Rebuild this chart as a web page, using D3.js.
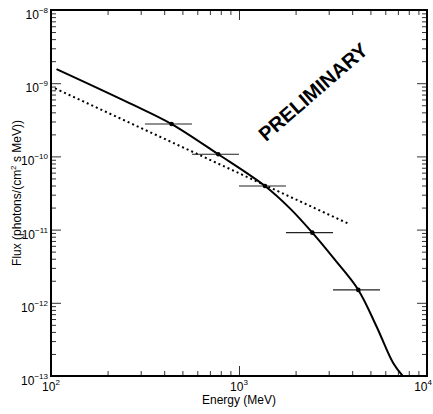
<html>
<head>
<script src="https://cdnjs.cloudflare.com/ajax/libs/d3/7.8.5/d3.min.js"></script>
<style>
  body { margin: 0; background: white; }
  text { font-family: "Liberation Sans", Arial, Helvetica, sans-serif; fill: black; }
  .frame { fill: none; stroke: black; stroke-width: 2px; }
  .tick line { stroke: #333; }
</style>
</head>
<body>
<svg id="chart" width="433" height="414"></svg>
<script>
// measured points (bin edges in MeV, flux in photons/(cm2 s MeV))
const binLow  = [316, 562, 1000, 1778, 3162];
const binHigh = [562, 1000, 1778, 3162, 5623];
const energy  = [438, 776, 1375, 2455, 4312];
const flux    = [2.77e-10, 1.07e-10, 3.94e-11, 9.08e-12, 1.50e-12];

// curved model (solid)
const modelE = [107, 263, 438, 776, 1375, 1866, 2455, 3241, 4312, 5397, 6620, 7430];
const modelF = [1.56e-9, 5.31e-10, 2.77e-10, 1.07e-10, 3.94e-11, 1.95e-11,
                9.08e-12, 3.85e-12, 1.50e-12, 4.71e-13, 1.49e-13, 1.0e-13];

// power law (dotted)
const plE = [105, 3860];
const plF = [8.5e-10, 1.19e-11];

const xMajor = [1e2, 1e3, 1e4];
const xMajorExp = ["2", "3", "4"];
const yMajor = [1e-13, 1e-12, 1e-11, 1e-10, 1e-9, 1e-8];
const yMajorExp = ["\u221213", "\u221212", "\u221211", "\u221210", "\u22129", "\u22128"];

const svg = d3.select("#chart");
const margin = {left: 51, right: 6, top: 10, bottom: 38};
const W = 433 - margin.left - margin.right;
const H = 414 - margin.top - margin.bottom;
const g = svg.append("g").attr("transform", "translate(" + margin.left + "," + margin.top + ")");

const x = d3.scaleLog().domain([1e2, 1e4]).range([0, W]);
const y = d3.scaleLog().domain([1e-13, 1e-8]).range([H, 0]);

// minor ticks 2..9 in each decade
const xMinor = [];
[1e2, 1e3].forEach(d => { for (let k = 2; k <= 9; k++) xMinor.push(d * k); });
const yMinor = [];
[1e-13, 1e-12, 1e-11, 1e-10, 1e-9].forEach(d => { for (let k = 2; k <= 9; k++) yMinor.push(d * k); });

function drawAxes(vals, size) {
  g.append("g").attr("transform", "translate(0," + H + ")")
    .call(d3.axisBottom(x).tickValues(vals).tickSize(-size).tickFormat(""));
  g.append("g")
    .call(d3.axisTop(x).tickValues(vals).tickSize(-size).tickFormat(""));
}
function drawYAxes(vals, size) {
  g.append("g")
    .call(d3.axisLeft(y).tickValues(vals).tickSize(-size).tickFormat(""));
  g.append("g").attr("transform", "translate(" + W + ",0)")
    .call(d3.axisRight(y).tickValues(vals).tickSize(-size).tickFormat(""));
}
drawAxes(xMinor, 5);
drawAxes(xMajor, 10);
drawYAxes(yMinor, 5);
drawYAxes(yMajor, 10);
g.selectAll(".domain").remove();

g.append("rect").attr("class", "frame").attr("width", W).attr("height", H);

// tick labels (last one pulled in so it stays on the page)
xMajor.forEach((v, i) => {
  const last = i === xMajor.length - 1;
  const t = g.append("text").attr("x", last ? W + 5 : x(v)).attr("y", H + 15)
    .attr("text-anchor", last ? "end" : "middle").style("font-size", "12px");
  t.append("tspan").text("10");
  t.append("tspan").attr("dy", -6).style("font-size", "8px").text(xMajorExp[i]);
});
yMajor.forEach((v, i) => {
  const t = g.append("text").attr("x", -3).attr("y", y(v) + 9)
    .attr("text-anchor", "end").style("font-size", "12px");
  t.append("tspan").text("10");
  t.append("tspan").attr("dy", -6).style("font-size", "8px").text(yMajorExp[i]);
});

// axis titles
g.append("text").attr("x", W / 2).attr("y", H + 28)
  .attr("text-anchor", "middle").style("font-size", "12px").text("Energy (MeV)");
const yt = g.append("text")
  .attr("transform", "translate(" + (21 - margin.left) + "," + (H / 2) + ") rotate(-90)")
  .attr("text-anchor", "middle").style("font-size", "12px");
yt.append("tspan").text("Flux (photons/(cm");
yt.append("tspan").attr("dy", -5).style("font-size", "8px").text("2");
yt.append("tspan").attr("dy", 5).text(" s MeV))");

// clip for curves
svg.append("defs").append("clipPath").attr("id", "clip")
  .append("rect").attr("width", W).attr("height", H);
const plot = g.append("g").attr("clip-path", "url(#clip)");

const line = d3.line().x(d => x(d[0])).y(d => y(d[1])).curve(d3.curveCatmullRom.alpha(0.5));

plot.append("path")
  .datum(plE.map((e, i) => [e, plF[i]]))
  .attr("d", d3.line().x(d => x(d[0])).y(d => y(d[1])))
  .attr("fill", "none").attr("stroke", "black")
  .attr("stroke-width", 2).attr("stroke-dasharray", "2,3");

plot.append("path")
  .datum(modelE.map((e, i) => [e, modelF[i]]))
  .attr("d", line)
  .attr("fill", "none").attr("stroke", "black").attr("stroke-width", 2);

// data points with energy bins
const pts = energy.map((e, i) => ({e: e, f: flux[i], lo: binLow[i], hi: binHigh[i]}));
plot.selectAll("line.err").data(pts).join("line")
  .attr("class", "err")
  .attr("x1", d => x(d.lo)).attr("x2", d => x(d.hi))
  .attr("y1", d => y(d.f)).attr("y2", d => y(d.f))
  .attr("stroke", "#222").attr("stroke-width", 1.2);
plot.selectAll("circle.pt").data(pts).join("circle")
  .attr("class", "pt")
  .attr("cx", d => x(d.e)).attr("cy", d => y(d.f)).attr("r", 2.3)
  .attr("fill", "black");

// watermark
g.append("text")
  .attr("transform", "translate(" + (313 - margin.left) + "," + (92 - margin.top) + ") rotate(-41)")
  .attr("text-anchor", "middle").attr("dominant-baseline", "central")
  .style("font-size", "20px").style("font-weight", "bold")
  .text("PRELIMINARY");
</script>
</body>
</html>
